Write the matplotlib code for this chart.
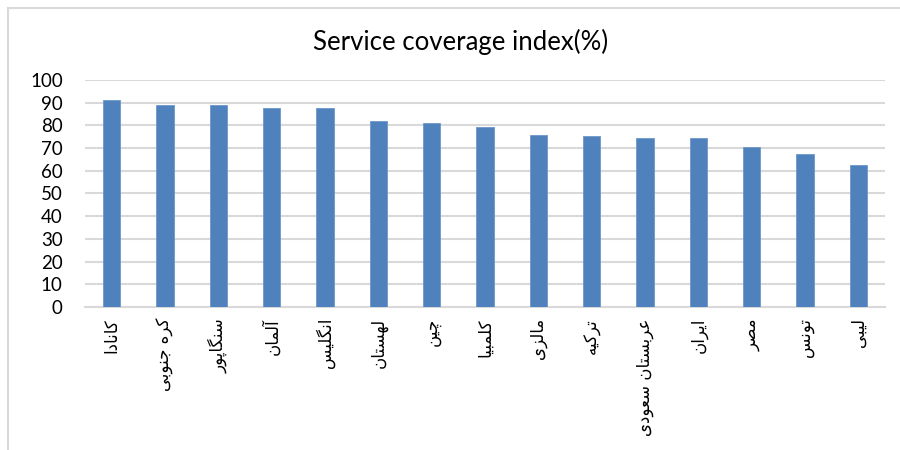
import matplotlib
matplotlib.use('Agg')
import matplotlib.pyplot as plt
from matplotlib.lines import Line2D

countries = ['کانادا', 'کره جنوبی', 'سنگاپور', 'آلمان', 'انگلیس', 'لهستان', 'چین', 'کلمبیا',
             'مالزی', 'ترکیه', 'عربستان سعودی', 'ایران', 'مصر', 'تونس', 'لیبی']
coverage = [91.0, 89.2, 88.8, 87.8, 87.8, 82.1, 81.2, 79.4, 75.8, 75.4, 74.5, 74.5, 70.5, 67.4, 62.5]
yticks = [0, 10, 20, 30, 40, 50, 60, 70, 80, 90, 100]

# arabic presentation forms: isolated, final, initial, medial (None = does not join forward)
FORMS = {
    'ا': ('\uFE8D', '\uFE8E', None, None),
    'آ': ('\uFE81', '\uFE82', None, None),
    'ب': ('\uFE8F', '\uFE90', '\uFE91', '\uFE92'),
    'پ': ('\uFB56', '\uFB57', '\uFB58', '\uFB59'),
    'ت': ('\uFE95', '\uFE96', '\uFE97', '\uFE98'),
    'ج': ('\uFE9D', '\uFE9E', '\uFE9F', '\uFEA0'),
    'چ': ('\uFB7A', '\uFB7B', '\uFB7C', '\uFB7D'),
    'د': ('\uFEA9', '\uFEAA', None, None),
    'ر': ('\uFEAD', '\uFEAE', None, None),
    'ز': ('\uFEAF', '\uFEB0', None, None),
    'س': ('\uFEB1', '\uFEB2', '\uFEB3', '\uFEB4'),
    'ص': ('\uFEB9', '\uFEBA', '\uFEBB', '\uFEBC'),
    'ع': ('\uFEC9', '\uFECA', '\uFECB', '\uFECC'),
    'ک': ('\uFB8E', '\uFB8F', '\uFB90', '\uFB91'),
    'گ': ('\uFB92', '\uFB93', '\uFB94', '\uFB95'),
    'ل': ('\uFEDD', '\uFEDE', '\uFEDF', '\uFEE0'),
    'م': ('\uFEE1', '\uFEE2', '\uFEE3', '\uFEE4'),
    'ن': ('\uFEE5', '\uFEE6', '\uFEE7', '\uFEE8'),
    'ه': ('\uFEE9', '\uFEEA', '\uFEEB', '\uFEEC'),
    'و': ('\uFEED', '\uFEEE', None, None),
    'ی': ('\uFBFC', '\uFBFD', '\uFBFE', '\uFBFF'),
}


def shape(text):
    out = []
    for i, c in enumerate(text):
        if c not in FORMS:
            out.append(c)
            continue
        f = FORMS[c]
        prev = text[i - 1] if i > 0 else None
        nxt = text[i + 1] if i + 1 < len(text) else None
        join_prev = prev in FORMS and FORMS[prev][2] is not None
        join_next = f[2] is not None and nxt in FORMS
        if join_prev and join_next:
            out.append(f[3])
        elif join_prev:
            out.append(f[1])
        elif join_next:
            out.append(f[2])
        else:
            out.append(f[0])
    return ''.join(out)[::-1]


fig = plt.figure(figsize=(9, 4.5), dpi=100)
ax = fig.add_axes([85 / 900, 1 - 307 / 450, 800 / 900, 227 / 450])

x = list(range(len(countries)))
ax.bar(x, coverage, width=0.32, color='#4F81BD', edgecolor='#6f97c9', linewidth=0.6, zorder=3)

ax.set_xlim(-0.5, len(countries) - 0.5)
ax.set_ylim(0, 100)
ax.set_yticks(yticks)
ax.set_yticklabels([str(v) for v in yticks], family='Lato', fontsize=13.5)
ax.set_xticks(x)
ax.set_xticklabels([shape(c) for c in countries], rotation=90, family='DejaVu Sans',
                   fontsize=12, va='top', ha='center')
ax.tick_params(axis='both', length=0)
ax.tick_params(axis='y', pad=16)
ax.tick_params(axis='x', pad=8)

ax.grid(axis='y', color='#d9d9d9', linewidth=1.5, zorder=0)
for s in ['top', 'right', 'left']:
    ax.spines[s].set_visible(False)
ax.spines['bottom'].set_color('#d9d9d9')
ax.spines['bottom'].set_linewidth(1.5)

fig.text(461 / 900, 1 - 42 / 450, 'Service coverage index(%)', ha='center', va='center',
         family='Lato', fontsize=18.5)

# chart frame (top and left edges visible)
fig.add_artist(Line2D([8 / 900, 1], [1 - 8 / 450, 1 - 8 / 450], color='#d9d9d9', linewidth=1.5))
fig.add_artist(Line2D([8 / 900, 8 / 900], [0, 1 - 8 / 450], color='#d9d9d9', linewidth=1.5))

fig.savefig('out.png', dpi=100, facecolor='white')
